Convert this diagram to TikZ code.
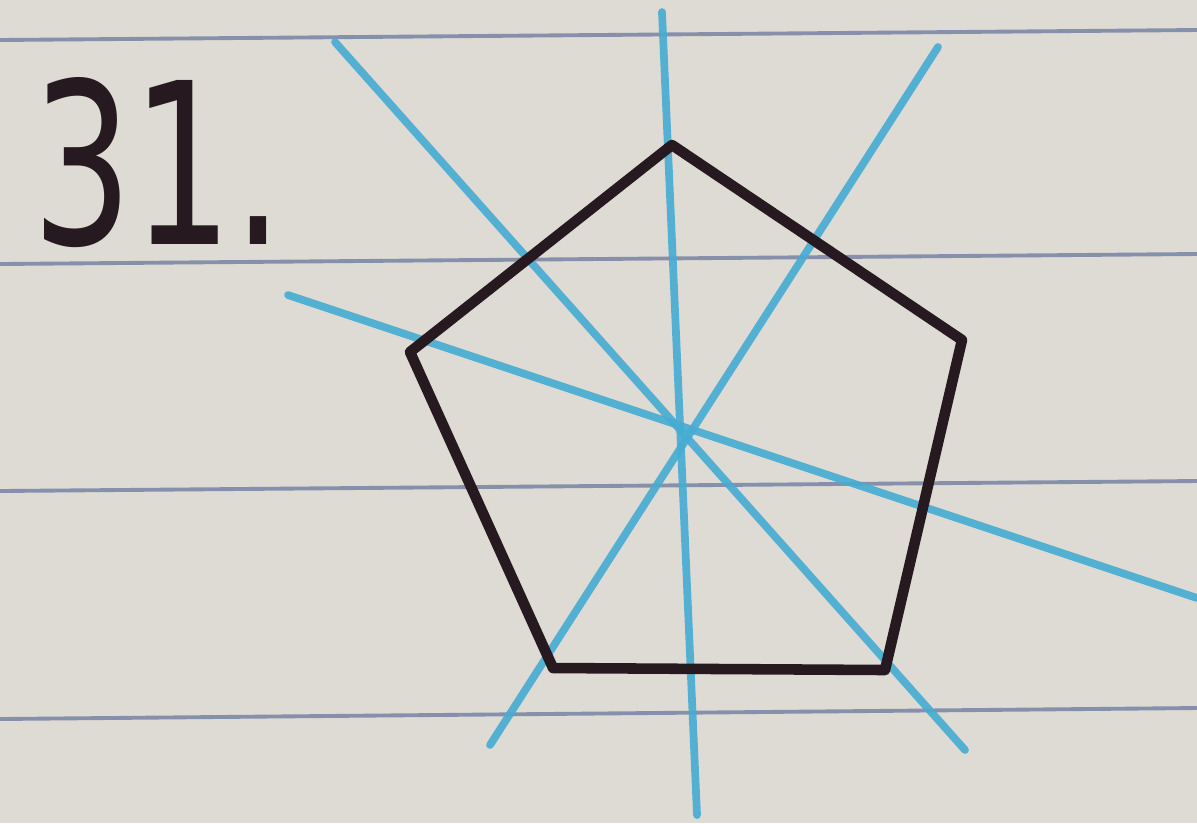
\documentclass[tikz,border=0pt]{standalone}
\usepackage{fontspec}
\setmainfont{DejaVu Sans}
\definecolor{paper}{RGB}{222,219,213}
\definecolor{rule}{RGB}{112,126,160}
\definecolor{pencil}{RGB}{70,172,210}
\definecolor{ink}{RGB}{38,26,32}
\tikzset{
  ruleline/.style={draw=rule, line width=1.1pt, opacity=0.8},
  symline/.style={draw=pencil, line width=2.2pt, line cap=round, opacity=0.9},
  edge/.style={draw=ink, line width=3pt, line join=round, line cap=round},
  numlbl/.style={font=\fontsize{64}{64}\selectfont, text=ink, inner sep=0pt, anchor=south west},
}
\begin{document}
\begin{tikzpicture}[x=0.01cm, y=-0.01cm]
  % paper
  \fill[paper] (0,0) rectangle (1197,823);
  \useasboundingbox (0,0) rectangle (1197,823);

  % ruled lines
  \draw[ruleline] (0,40) -- (1197,30);
  \draw[ruleline] (0,264) -- (1197,254);
  \draw[ruleline] (0,491) -- (1197,481);
  \draw[ruleline] (0,719) -- (1197,708);

  % pentagon corners
  \coordinate (top) at (672,145);
  \coordinate (right) at (962,340);
  \coordinate (lowright) at (885,670);
  \coordinate (lowleft) at (553,668);
  \coordinate (left) at (410,352);

  % free ends of the lines of symmetry
  \coordinate (vtop) at (662,12);
  \coordinate (vbot) at (697,815);
  \coordinate (atop) at (335,42);
  \coordinate (abot) at (965,750);
  \coordinate (btop) at (938,47);
  \coordinate (bbot) at (490,745);
  \coordinate (cleft) at (288,295);
  \coordinate (cright) at (1197,598);

  % lines of symmetry
  \draw[symline] (vtop) -- (vbot);
  \draw[symline] (atop) -- (abot);
  \draw[symline] (btop) -- (bbot);
  \draw[symline] (cleft) -- (cright);

  % pentagon
  \draw[edge] (top) -- (right) -- (lowright) -- (lowleft) -- (left) -- cycle;

  % number
  \node[numlbl] (num) at (32,248) {\scalebox{0.7}[1]{31.}};
\end{tikzpicture}
\end{document}
